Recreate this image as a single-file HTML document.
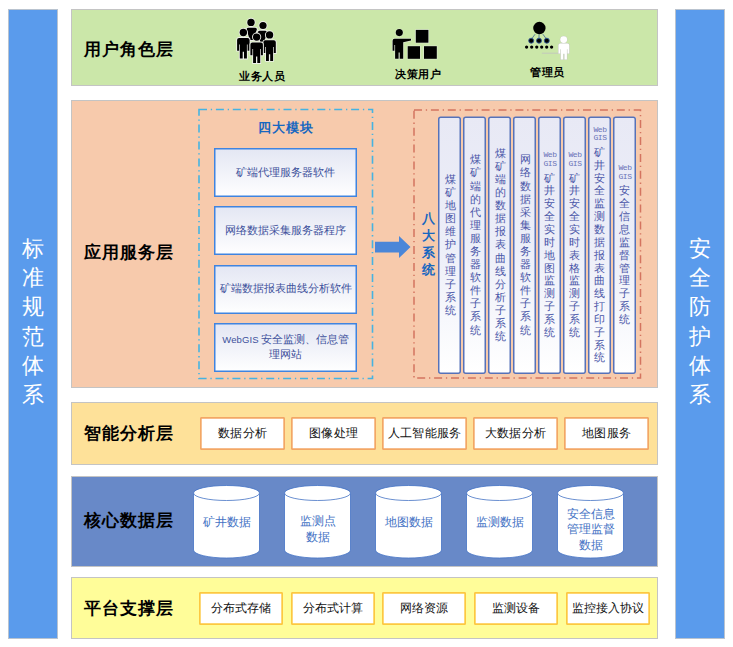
<!DOCTYPE html>
<html><head><meta charset="utf-8">
<style>
*{margin:0;padding:0;box-sizing:border-box}
html,body{width:733px;height:647px;background:#fff;overflow:hidden;font-family:"Liberation Sans",sans-serif}
.a{position:absolute}
.bar{position:absolute;top:9px;width:50px;height:630px;background:#5a9bec;border:1px solid #b9c3cf}
.bar .t{position:absolute;left:0;width:100%;top:224px;text-align:center;color:#fff;font-size:22px;line-height:29.2px}
.layer{position:absolute;left:71px;width:587px;border:1px solid #c4c4c4}
.ttl{position:absolute;left:12px;font-size:17px;font-weight:bold;color:#000;white-space:nowrap;letter-spacing:0.9px}
.mod{position:absolute;left:214px;width:143px;height:49px;box-shadow:inset 0 0 0 1.5px #3f84e0;background:linear-gradient(#e3e6f3,#ffffff);color:#40519c;font-size:11px;text-align:center;display:flex;align-items:center;justify-content:center;line-height:14px;padding-bottom:2px}
.col{position:absolute;top:117px;width:22px;height:256px;border-radius:1px;background:linear-gradient(#e8e9f5,#eceef8 50%,#ffffff);color:#4a56a8;font-size:11px;line-height:13.1px;text-align:center;display:flex;flex-direction:column;align-items:center;justify-content:center}
.col .w{font-family:"Liberation Mono",monospace;font-size:8px;line-height:8.6px;letter-spacing:-0.4px;margin-bottom:3px;color:#6a74b8}
.cw{line-height:12.85px}
.ob{position:absolute;top:417px;width:85px;height:33px;background:#fff;box-shadow:inset 0 0 0 1.7px #f3a765;border-radius:1px;font-size:12px;letter-spacing:0.25px;color:#111;display:flex;align-items:center;justify-content:center}
.yb{position:absolute;top:592px;width:84px;height:33px;background:#fff;box-shadow:inset 0 0 0 1.7px #fdc840;border-radius:1px;font-size:12px;letter-spacing:0px;color:#111;display:flex;align-items:center;justify-content:center}
.cyl{position:absolute;top:485px;width:67px;height:73px}
.cyl svg{position:absolute;left:0;top:0}
.cyl .t{position:absolute;left:0;width:67px;text-align:center;color:#4472c4;font-size:12px;line-height:16px}
.lbl{position:absolute;font-size:11px;letter-spacing:0.6px;font-weight:bold;color:#000;white-space:nowrap}
</style></head><body>

<div class="bar" style="left:8px"><div class="t">标<br>准<br>规<br>范<br>体<br>系</div></div>
<div class="bar" style="left:675px"><div class="t">安<br>全<br>防<br>护<br>体<br>系</div></div>

<!-- user layer -->
<div class="layer" style="top:9px;height:77px;background:#cbe7a9">
  <div class="ttl" style="top:28px">用户角色层</div>
</div>
<svg class="a" style="left:0;top:0" width="733" height="90">
<g fill="#000" stroke="#eef0ea" stroke-width="1.8" paint-order="stroke">
<circle cx="251" cy="22.4" r="3.7"/><path d="M248.4,27.8H255.3A1.6,1.6 0 0 1 256.9,29.4L252.8,40H249.8L246.6,29.4A1.6,1.6 0 0 1 248.4,27.8Z"/>
<circle cx="263" cy="25.5" r="3.6"/><path d="M259.5,30.7H265.4A1.6,1.6 0 0 1 267,32.3L264,43H260.5L257.9,32.3A1.6,1.6 0 0 1 259.5,30.7Z"/>
<g transform="translate(237.1,37.9)"><circle cx="6.25" cy="-5.4" r="3.7"/><path d="M2,0H10.5A2,2 0 0 1 12.5,2V12.8H10.5V6.6H9.8V20.6H6.9V13.9H5.6V20.6H2.7V6.6H2V12.8H0V2A2,2 0 0 1 2,0Z"/></g><g transform="translate(263.3,40.3)"><circle cx="6.25" cy="-5.4" r="3.7"/><path d="M2,0H10.5A2,2 0 0 1 12.5,2V12.8H10.5V6.6H9.8V20.6H6.9V13.9H5.6V20.6H2.7V6.6H2V12.8H0V2A2,2 0 0 1 2,0Z"/></g><g transform="translate(250.4,42.5)"><circle cx="6.25" cy="-5.4" r="3.7"/><path d="M2,0H10.5A2,2 0 0 1 12.5,2V12.8H10.5V6.6H9.8V20.6H6.9V13.9H5.6V20.6H2.7V6.6H2V12.8H0V2A2,2 0 0 1 2,0Z"/></g>
</g>
</g>
<g fill="#000" stroke="#e4eadf" stroke-width="1" paint-order="stroke">
<circle cx="399.3" cy="32.6" r="3.55"/>
<path d="M394.6,38.8H411V40.6L403.2,42.3V58.8H399.7V52.6H398.6V58.8H395.1V45H394.4V50.8H392.6V40.8A2,2 0 0 1 394.6,38.8Z"/>
<rect x="415.8" y="29.9" width="12.6" height="12.8"/>
<rect x="407.7" y="46.2" width="12.3" height="12.6"/>
<rect x="424" y="46.2" width="12.8" height="12.6"/>
</g>
<g stroke="#2f5597" stroke-width="0.7">
<line x1="535.1" y1="34.2" x2="531.9" y2="38.6"/><line x1="539" y1="34.2" x2="539" y2="38.6"/><line x1="542.9" y1="34.2" x2="546.1" y2="38.6"/>
</g>
<circle cx="539.4" cy="28.05" r="6.2" fill="#000"/>
<g fill="#000" stroke="#2f5597" stroke-width="0.9">
<circle cx="531.2" cy="40.7" r="2.5"/><circle cx="539" cy="40.7" r="2.5"/><circle cx="546.8" cy="40.7" r="2.5"/>
</g>
<g fill="#000">
<circle cx="526.6" cy="47.1" r="1.65"/><circle cx="531.7" cy="47.1" r="1.65"/><circle cx="536.75" cy="47.1" r="1.65"/><circle cx="541.7" cy="47.1" r="1.65"/><circle cx="546.7" cy="47.1" r="1.65"/><circle cx="551.6" cy="47.1" r="1.65"/>
</g>
<line x1="541.9" y1="53.2" x2="559" y2="53.2" stroke="#c3c8bd" stroke-width="1"/>
<g fill="#fff" stroke="#c5cac0" stroke-width="1" paint-order="stroke">
<circle cx="563.7" cy="39.6" r="3.4"/>
<path transform="translate(558.5,43.5)" d="M1.7,0H9A1.7,1.7 0 0 1 10.7,1.7V10H9V5.7H8.4V16H6V10.3H4.7V16H2.3V5.7H1.7V10H0V1.7A1.7,1.7 0 0 1 1.7,0Z"/>
</g>
</svg>
<div class="lbl" style="left:239px;top:68.5px">业务人员</div>
<div class="lbl" style="left:395px;top:66.5px">决策用户</div>
<div class="lbl" style="left:530px;top:64.5px">管理员</div>

<!-- app layer -->
<div class="layer" style="top:100px;height:288px;background:#f7caac">
  <div class="ttl" style="top:140px">应用服务层</div>
</div>
<svg class="a" style="left:0;top:0" width="733" height="647">
  <rect x="199" y="109.5" width="173.5" height="269" fill="none" stroke="#45b3e2" stroke-width="1.6" stroke-dasharray="8 3.8 1.3 3.8"/>
  <rect x="414" y="110" width="226.5" height="268" fill="none" stroke="#d4745f" stroke-width="1.5" stroke-dasharray="8 3.8 1.3 3.8"/>
  <path d="M375 241.7 H399 V236 L410.5 247 L399 258.1 V252.6 H375z" fill="#4a86d8"/>
</svg>
<div class="a" style="left:198.5px;top:119px;width:175px;text-align:center;font-size:13px;letter-spacing:0.8px;font-weight:bold;color:#1767c0">四大模块</div>
<div class="mod" style="top:148px">矿端代理服务器软件</div>
<div class="mod" style="top:206px">网络数据采集服务器程序</div>
<div class="mod" style="top:264.5px">矿端数据报表曲线分析软件</div>
<div class="mod" style="top:323px"><span><span style="font-size:9.5px;letter-spacing:0.1px;margin-right:2px">WebGIS</span>安全监测、信息管<br>理网站</span></div>

<div class="a" style="left:418px;top:211px;width:20px;text-align:center;font-size:13px;line-height:16.9px;font-weight:bold;color:#1767c0">八<br>大<br>系<br>统</div>

<div class="col" style="left:439px"><div>煤<br>矿<br>地<br>图<br>维<br>护<br>管<br>理<br>子<br>系<br>统</div></div>
<div class="col" style="left:464px"><div>煤<br>矿<br>端<br>的<br>代<br>理<br>服<br>务<br>器<br>软<br>件<br>子<br>系<br>统</div></div>
<div class="col" style="left:489px"><div>煤<br>矿<br>端<br>的<br>数<br>据<br>报<br>表<br>曲<br>线<br>分<br>析<br>子<br>系<br>统</div></div>
<div class="col" style="left:514px"><div>网<br>络<br>数<br>据<br>采<br>集<br>服<br>务<br>器<br>软<br>件<br>子<br>系<br>统</div></div>
<div class="col cw" style="left:539px"><div><div class="w">Web<br>GIS</div>矿<br>井<br>安<br>全<br>实<br>时<br>地<br>图<br>监<br>测<br>子<br>系<br>统</div></div>
<div class="col cw" style="left:564px"><div><div class="w">Web<br>GIS</div>矿<br>井<br>安<br>全<br>实<br>时<br>表<br>格<br>监<br>测<br>子<br>系<br>统</div></div>
<div class="col cw" style="left:589px"><div><div class="w">Web<br>GIS</div>矿<br>井<br>安<br>全<br>监<br>测<br>数<br>据<br>报<br>表<br>曲<br>线<br>打<br>印<br>子<br>系<br>统</div></div>
<div class="col cw" style="left:614px"><div><div class="w">Web<br>GIS</div>安<br>全<br>信<br>息<br>监<br>督<br>管<br>理<br>子<br>系<br>统</div></div>

<svg class="a" style="left:0;top:0" width="733" height="400"><rect x="438.75" y="117.15" width="21.5" height="256.1" rx="2" fill="none" stroke="#5672b9" stroke-width="1.5"/><rect x="463.75" y="117.15" width="21.5" height="256.1" rx="2" fill="none" stroke="#5672b9" stroke-width="1.5"/><rect x="488.75" y="117.15" width="21.5" height="256.1" rx="2" fill="none" stroke="#5672b9" stroke-width="1.5"/><rect x="513.75" y="117.15" width="21.5" height="256.1" rx="2" fill="none" stroke="#5672b9" stroke-width="1.5"/><rect x="538.75" y="117.15" width="21.5" height="256.1" rx="2" fill="none" stroke="#5672b9" stroke-width="1.5"/><rect x="563.75" y="117.15" width="21.5" height="256.1" rx="2" fill="none" stroke="#5672b9" stroke-width="1.5"/><rect x="588.75" y="117.15" width="21.5" height="256.1" rx="2" fill="none" stroke="#5672b9" stroke-width="1.5"/><rect x="613.75" y="117.15" width="21.5" height="256.1" rx="2" fill="none" stroke="#5672b9" stroke-width="1.5"/></svg>
<!-- analysis layer -->
<div class="layer" style="top:402px;height:63px;background:#fee199">
  <div class="ttl" style="top:18.5px">智能分析层</div>
</div>
<div class="ob" style="left:200px">数据分析</div>
<div class="ob" style="left:291px">图像处理</div>
<div class="ob" style="left:382px">人工智能服务</div>
<div class="ob" style="left:473px">大数据分析</div>
<div class="ob" style="left:564px">地图服务</div>

<!-- data layer -->
<div class="layer" style="top:476px;height:91px;background:#6889c8">
  <div class="ttl" style="top:32px">核心数据层</div>
</div>
<div class="cyl" style="left:193px"><svg width="67" height="74"><path d="M0.5 8 V65 A33 8 0 0 0 66.5 65 V8" fill="#fff" stroke="#4472c4" stroke-width="0.8"/><ellipse cx="33.5" cy="8" rx="33" ry="7.5" fill="#fff" stroke="#4472c4" stroke-width="0.8"/></svg><div class="t" style="top:29px">矿井数据</div></div>
<div class="cyl" style="left:284px"><svg width="67" height="74"><path d="M0.5 8 V65 A33 8 0 0 0 66.5 65 V8" fill="#fff" stroke="#4472c4" stroke-width="0.8"/><ellipse cx="33.5" cy="8" rx="33" ry="7.5" fill="#fff" stroke="#4472c4" stroke-width="0.8"/></svg><div class="t" style="top:28px">监测点<br>数据</div></div>
<div class="cyl" style="left:375px"><svg width="67" height="74"><path d="M0.5 8 V65 A33 8 0 0 0 66.5 65 V8" fill="#fff" stroke="#4472c4" stroke-width="0.8"/><ellipse cx="33.5" cy="8" rx="33" ry="7.5" fill="#fff" stroke="#4472c4" stroke-width="0.8"/></svg><div class="t" style="top:29px">地图数据</div></div>
<div class="cyl" style="left:466px"><svg width="67" height="74"><path d="M0.5 8 V65 A33 8 0 0 0 66.5 65 V8" fill="#fff" stroke="#4472c4" stroke-width="0.8"/><ellipse cx="33.5" cy="8" rx="33" ry="7.5" fill="#fff" stroke="#4472c4" stroke-width="0.8"/></svg><div class="t" style="top:29px">监测数据</div></div>
<div class="cyl" style="left:557px"><svg width="67" height="74"><path d="M0.5 8 V65 A33 8 0 0 0 66.5 65 V8" fill="#fff" stroke="#4472c4" stroke-width="0.8"/><ellipse cx="33.5" cy="8" rx="33" ry="7.5" fill="#fff" stroke="#4472c4" stroke-width="0.8"/></svg><div class="t" style="top:22px;line-height:15.3px">安全信息<br>管理监督<br>数据</div></div>

<!-- platform layer -->
<div class="layer" style="top:577px;height:62px;background:#fffd99">
  <div class="ttl" style="top:18.5px">平台支撑层</div>
</div>
<div class="yb" style="left:199px">分布式存储</div>
<div class="yb" style="left:291px">分布式计算</div>
<div class="yb" style="left:382px">网络资源</div>
<div class="yb" style="left:474px">监测设备</div>
<div class="yb" style="left:566px">监控接入协议</div>

</body></html>
